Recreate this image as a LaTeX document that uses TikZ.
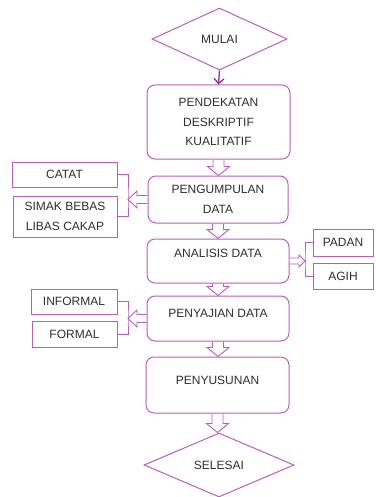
\documentclass[tikz,border=0pt]{standalone}
\usepackage{fontspec}
\setmainfont{Liberation Sans}
\usetikzlibrary{calc,shapes.geometric,arrows.meta}
\definecolor{boxcol}{RGB}{188,92,188}
\definecolor{arrowcol}{RGB}{150,40,160}
\definecolor{txt}{RGB}{45,45,45}

% hollow block arrows between two anchors
\newcommand{\fatdown}[2]{\draw[hollow] let \p1=(#1), \p2=(#2) in
  (\x1-5.5pt,\y1) -- (\x1-5.5pt,\y2+9pt) -- (\x1-11pt,\y2+9pt) -- (\x1,\y2)
  -- (\x1+11pt,\y2+9pt) -- (\x1+5.5pt,\y2+9pt) -- (\x1+5.5pt,\y1);}
\newcommand{\fatleft}[2]{\draw[hollow] let \p1=(#1), \p2=(#2) in
  (\x1,\y1+4pt) -- (\x2+9pt,\y1+4pt) -- (\x2+9pt,\y1+8.5pt) -- (\x2,\y1)
  -- (\x2+9pt,\y1-8.5pt) -- (\x2+9pt,\y1-4pt) -- (\x1,\y1-4pt);}
\newcommand{\fatright}[2]{\draw[hollow] let \p1=(#1), \p2=(#2) in
  (\x1,\y1+3pt) -- (\x2-6pt,\y1+3pt) -- (\x2-6pt,\y1+6pt) -- (\x2,\y1)
  -- (\x2-6pt,\y1-6pt) -- (\x2-6pt,\y1-3pt) -- (\x1,\y1-3pt);}

\begin{document}
\begin{tikzpicture}[x=1pt,y=-1pt,
  every node/.style={font=\fontsize{12}{19.5}\selectfont, text=txt, align=center, inner sep=0pt},
  box/.style={draw=boxcol, line width=1pt, rounded corners=8pt},
  side/.style={draw=boxcol, line width=1pt},
  ends/.style={diamond, draw=boxcol, line width=1pt, aspect=2.2},
  up/.style={text height=8.6pt, text depth=#1},
  hollow/.style={draw=boxcol, line width=0.9pt},
  link/.style={draw=boxcol, line width=1pt},
  thinarrow/.style={draw=arrowcol, line width=1.3pt, -{Straight Barb[length=5pt,width=10pt]}}]
\useasboundingbox (0,0) rectangle (375,497);

% Main flow
\node[ends, minimum width=135pt, minimum height=62pt] (mulai) at (219.5,39) {MULAI};
\node[box, minimum width=143pt, minimum height=74pt] (pendekatan) at (218.5,122) {PENDEKATAN\\DESKRIPTIF\\KUALITATIF};
\node[box, minimum width=140pt, minimum height=47pt] (pengumpulan) at (218,199.5) {PENGUMPULAN\\DATA};
\node[box, up=16pt, minimum width=142pt, minimum height=44pt] (analisis) at (218,261) {ANALISIS DATA};
\node[box, up=11pt, minimum width=142pt, minimum height=45pt] (penyajian) at (218,318.5) {PENYAJIAN DATA};
\node[box, up=10pt, minimum width=143pt, minimum height=56pt] (penyusunan) at (217.5,385) {PENYUSUNAN};
\node[ends, minimum width=150pt, minimum height=64pt] (selesai) at (219,465) {SELESAI};

% Side boxes
\node[side, minimum width=105pt, minimum height=25pt] (catat) at (64.5,174.5) {CATAT};
\node[side, minimum width=104pt, minimum height=41pt] (simak) at (65,216.5) {SIMAK BEBAS\\LIBAS CAKAP};
\node[side, minimum width=60pt, minimum height=27pt] (padan) at (343,242.5) {PADAN};
\node[side, minimum width=60pt, minimum height=26pt] (agih) at (343,276) {AGIH};
\node[side, minimum width=86pt, minimum height=25pt] (informal) at (74,301.5) {INFORMAL};
\node[side, minimum width=85pt, minimum height=26pt] (formal) at (74.5,334) {FORMAL};

% Brackets
\coordinate (brkA) at (128,199.5);
\coordinate (brkB) at (305,261);
\coordinate (brkC) at (128,318.5);
\draw[link] (catat.east) -| (brkA) |- (simak.east);
\draw[link] (padan.west) -| (brkB) |- (agih.west);
\draw[link] (informal.east) -| (brkC) |- (formal.east);

% Arrows
\draw[thinarrow] (mulai.south) -- (pendekatan.north);
\fatdown{pendekatan.south}{pengumpulan.north}
\fatdown{pengumpulan.south}{analisis.north}
\fatdown{analisis.south}{penyajian.north}
\fatdown{penyajian.south}{penyusunan.north}
\fatdown{penyusunan.south}{selesai.north}
\fatleft{pengumpulan.west}{brkA}
\fatright{analisis.east}{brkB}
\fatleft{penyajian.west}{brkC}
\end{tikzpicture}
\end{document}
